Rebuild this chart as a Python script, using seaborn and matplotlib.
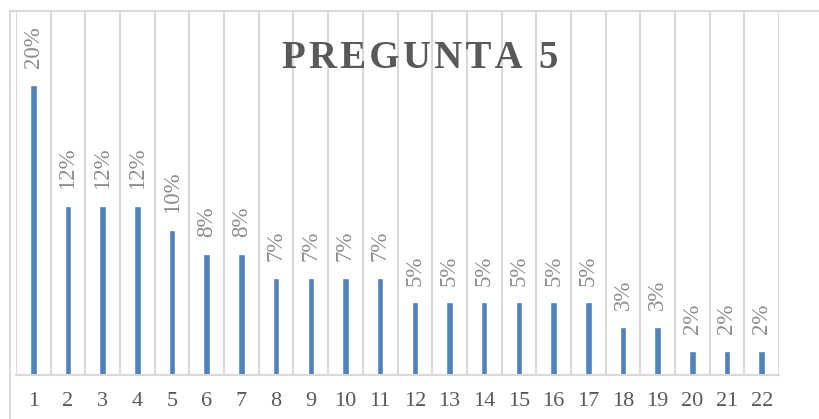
import matplotlib
matplotlib.use("Agg")
import matplotlib.pyplot as plt
from matplotlib.lines import Line2D
import seaborn as sns
import numpy as np

# data
categories = [str(i) for i in range(1, 23)]
values = [0.20, 0.1167, 0.1167, 0.1167, 0.10, 0.0833, 0.0833,
          0.0667, 0.0667, 0.0667, 0.0667,
          0.05, 0.05, 0.05, 0.05, 0.05, 0.05,
          0.0333, 0.0333, 0.0167, 0.0167, 0.0167]
labels = ["20%", "12%", "12%", "12%", "10%", "8%", "8%",
          "7%", "7%", "7%", "7%",
          "5%", "5%", "5%", "5%", "5%", "5%",
          "3%", "3%", "2%", "2%", "2%"]
title = "PREGUNTA 5"

sns.set_style("white")
plt.rcParams['font.family'] = ['Liberation Serif', 'DejaVu Serif']

fig = plt.figure(figsize=(8.19, 4.19), dpi=100)
ax = fig.add_axes([16 / 819, 44 / 419, 763 / 819, 363 / 419])

sns.barplot(x=categories, y=values, color="#4f81bd", width=0.19,
            saturation=1, ax=ax)

ax.set_ylim(0, 0.25)
ax.set_xlim(-0.5, len(categories) - 0.5)
ax.set_yticks([])
ax.set_xlabel("")
ax.set_ylabel("")

# vertical gridlines between categories
ax.set_xticks(np.arange(-0.5, len(categories)), minor=True)
ax.grid(True, which='minor', axis='x', color="#d9d9d9", linewidth=1.5)
ax.grid(False, which='major')
ax.tick_params(axis='x', which='both', length=0, pad=12,
               labelsize=16, labelcolor="#595959")

for s in ['top', 'right', 'left']:
    ax.spines[s].set_visible(False)
ax.spines['bottom'].set_color("#d9d9d9")
ax.spines['bottom'].set_linewidth(1.5)

for cont in ax.containers:
    ax.bar_label(cont, labels=labels, rotation=90, padding=12,
                 fontsize=16.5, color="#8c8c8c")

# spaced-out title like the original
spaced = "\u200a".join(title)
fig.text(420 / 819, 1 - 58 / 419, spaced, ha='center', va='center',
         fontsize=28, fontweight='bold', color="#595959")

# chart border (top and left)
fig.add_artist(Line2D([10 / 819, 1], [1 - 11 / 419, 1 - 11 / 419],
                      transform=fig.transFigure, color="#d9d9d9", lw=1.5))
fig.add_artist(Line2D([10 / 819, 10 / 819], [0, 1 - 11 / 419],
                      transform=fig.transFigure, color="#d9d9d9", lw=1.5))

fig.savefig("out.png", dpi=100)
